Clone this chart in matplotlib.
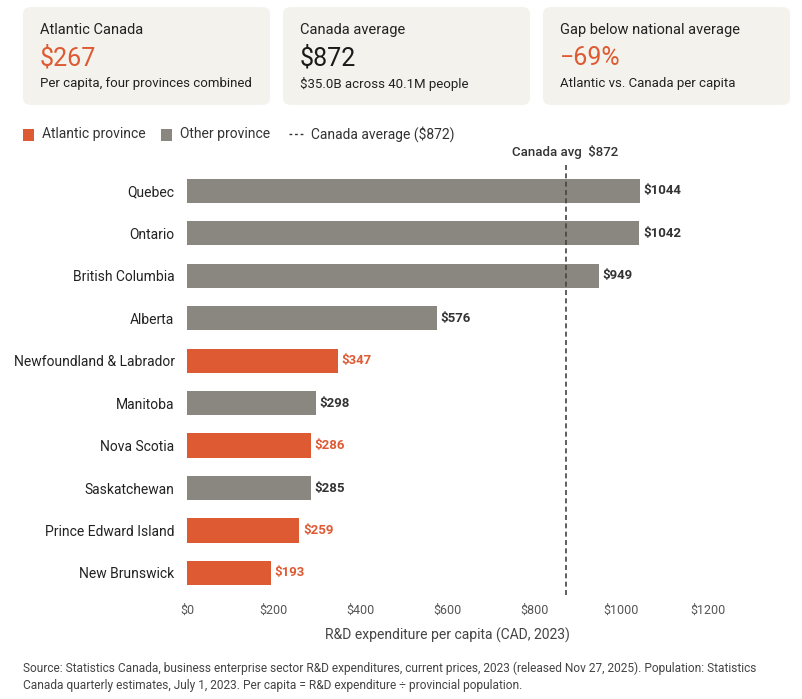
import matplotlib
matplotlib.use("Agg")
import matplotlib.pyplot as plt
from matplotlib.patches import FancyBboxPatch, Rectangle
from matplotlib.lines import Line2D

provinces = ["Quebec", "Ontario", "British Columbia", "Alberta", "Newfoundland & Labrador",
             "Manitoba", "Nova Scotia", "Saskatchewan", "Prince Edward Island", "New Brunswick"]
values = [1044, 1042, 949, 576, 347, 298, 286, 285, 259, 193]
atlantic = [False, False, False, False, True, False, True, False, True, True]
canada_avg = 872
xticks = [0, 200, 400, 600, 800, 1000, 1200]

ORANGE = "#dd5a33"
GREY = "#8a8780"
plt.rcParams['font.family'] = ['Roboto', 'DejaVu Sans']

W, H = 802, 699
fig = plt.figure(figsize=(W/100, H/100), dpi=100)
fig.patch.set_facecolor("white")

def fx(px): return px / W
def fy(py): return 1 - py / H

cards = [
    ("Atlantic Canada", "$267", "Per capita, four provinces combined", ORANGE),
    ("Canada average", "$872", "$35.0B across 40.1M people", "#1a1a1a"),
    ("Gap below national average", "\u221269%", "Atlantic vs. Canada per capita", ORANGE),
]
for i, (t, v, s, c) in enumerate(cards):
    x0 = 23 + i * 260
    p = FancyBboxPatch((fx(x0), fy(105)), fx(247), 98 / H,
                       boxstyle="round,pad=0,rounding_size=0.01", transform=fig.transFigure,
                       facecolor="#f4f2ec", edgecolor="none")
    fig.add_artist(p)
    fig.text(fx(x0 + 17), fy(30), t, fontsize=10.5, color="#222", va="center")
    fig.text(fx(x0 + 17), fy(58), v, fontsize=18, color=c, va="center")
    fig.text(fx(x0 + 17), fy(84), s, fontsize=9.5, color="#222", va="center")

# legend
fig.add_artist(Rectangle((fx(23), fy(141)), fx(11), 12 / H, transform=fig.transFigure,
                         facecolor=ORANGE, edgecolor="none"))
fig.text(fx(42), fy(134), "Atlantic province", fontsize=10, color="#333", va="center")
fig.add_artist(Rectangle((fx(161), fy(141)), fx(11), 12 / H, transform=fig.transFigure,
                         facecolor=GREY, edgecolor="none"))
fig.text(fx(180), fy(134), "Other province", fontsize=10, color="#333", va="center")
fig.add_artist(Line2D([fx(289), fx(305)], [fy(134), fy(134)], transform=fig.transFigure,
                      color="#333", lw=1, ls=(0, (2, 2))))
fig.text(fx(311), fy(134), "Canada average ($872)", fontsize=10, color="#333", va="center")

ax = fig.add_axes([fx(187), fy(595), fx(708 - 187), (595 - 165) / H])
ax.set_facecolor("white")
ys = list(range(len(provinces)))
cols = [ORANGE if a else GREY for a in atlantic]
ax.barh(ys, values, height=0.57, color=cols)
for y, v, a in zip(ys, values, atlantic):
    ax.text(v + 8, y, f"${v}", va="center", fontsize=9.5, fontweight="bold",
            color=ORANGE if a else "#333")
ax.axvline(canada_avg, color="#444", lw=1.2, ls=(0, (3, 2)))
ax.text(canada_avg, -0.75, "Canada avg  $872", ha="center", va="bottom", fontsize=9.5,
        color="#333", fontweight="medium")
ax.set_xlim(0, 1200)
ax.set_ylim(9.52, -0.61)
ax.set_yticks(ys)
ax.set_yticklabels(provinces, fontsize=10, color="#222")
ax.set_xticks(xticks)
ax.set_xticklabels([f"${t}" for t in xticks], fontsize=9, color="#555")
ax.tick_params(length=0, pad=9)
ax.tick_params(axis="x", pad=6)
for s in ax.spines.values():
    s.set_visible(False)
ax.set_xlabel("R&D expenditure per capita (CAD, 2023)", fontsize=10, color="#444", labelpad=8)

fig.text(fx(23), fy(668), "Source: Statistics Canada, business enterprise sector R&D expenditures, current prices, 2023 (released Nov 27, 2025). Population: Statistics",
         fontsize=8.6, color="#444", va="center")
fig.text(fx(23), fy(686), "Canada quarterly estimates, July 1, 2023. Per capita = R&D expenditure \u00f7 provincial population.",
         fontsize=8.6, color="#444", va="center")

fig.savefig("out.png", dpi=100, facecolor="white")
